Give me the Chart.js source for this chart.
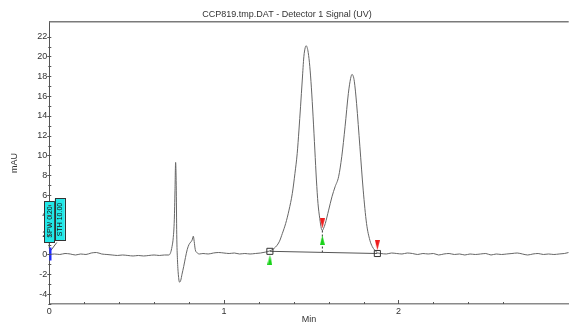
<!DOCTYPE html>
<html>
<head>
<meta charset="utf-8">
<script src="https://cdn.jsdelivr.net/npm/chart.js@4.4.1/dist/chart.umd.min.js"></script>
<style>
  html, body { margin: 0; padding: 0; background: #fff; }
  #chart { display: block; }
</style>
</head>
<body>
<canvas id="chart" width="574" height="324"></canvas>
<script>
// retention time (min) and detector signal (mAU)
const times = [
  0.000, 0.030, 0.060, 0.090, 0.120, 0.150, 0.180, 0.210, 0.240, 0.270,
  0.300, 0.330, 0.360, 0.390, 0.420, 0.450, 0.480, 0.510, 0.540, 0.570,
  0.600, 0.630, 0.660, 0.685,
  0.695, 0.703, 0.710, 0.716, 0.720, 0.7235, 0.727, 0.730, 0.734, 0.739,
  0.746, 0.753, 0.760, 0.770, 0.780, 0.790, 0.800, 0.810, 0.818, 0.825,
  0.830, 0.836, 0.845, 0.860,
  0.880, 0.910, 0.940, 0.970, 1.000, 1.030, 1.060, 1.090, 1.120, 1.150,
  1.180, 1.210, 1.240,
  1.2635, 1.288, 1.317, 1.335, 1.354, 1.373, 1.392, 1.407, 1.420, 1.430,
  1.439, 1.449, 1.458, 1.466, 1.471, 1.477, 1.483, 1.492, 1.501, 1.511,
  1.521, 1.530, 1.539, 1.549, 1.558, 1.564, 1.570, 1.581, 1.600, 1.619,
  1.637, 1.657, 1.675, 1.694, 1.713, 1.726, 1.734, 1.741, 1.747, 1.760,
  1.779, 1.798, 1.817, 1.836, 1.850, 1.864, 1.879,
  1.900, 1.930, 1.960, 1.990, 2.020, 2.050, 2.080, 2.110, 2.140, 2.170,
  2.200, 2.230, 2.260, 2.290, 2.320, 2.350, 2.380, 2.410, 2.440, 2.470,
  2.500, 2.530, 2.560, 2.590, 2.620, 2.650, 2.680, 2.710, 2.740, 2.770,
  2.800, 2.830, 2.860, 2.890, 2.920, 2.950, 2.975
];
const signal = [
  0.00, 0.05, 0.00, 0.10, 0.05, -0.05, 0.05, 0.00, 0.15, 0.20,
  0.05, 0.00, -0.05, -0.10, -0.05, -0.10, -0.15, -0.10, -0.15, -0.10,
  -0.05, -0.10, -0.05, -0.05,
  0.20, 0.80, 1.70, 3.50, 6.50, 9.30, 7.00, 2.00, -0.50, -2.00,
  -2.80, -2.60, -2.00, -1.20, -0.30, 0.50, 1.00, 1.25, 1.45, 1.85,
  1.30, 0.50, 0.20, 0.05,
  0.10, 0.05, 0.15, 0.20, 0.15, 0.10, 0.15, 0.05, 0.10, 0.05,
  0.10, 0.15, 0.25,
  0.37, 0.62, 1.28, 2.13, 3.14, 4.48, 6.17, 8.19, 10.21, 12.57,
  14.92, 17.62, 19.97, 20.90, 21.08, 20.90, 20.40, 19.00, 16.90, 13.90,
  10.55, 7.52, 5.16, 3.65, 2.64, 2.42, 2.60, 3.14, 4.48, 5.83,
  6.84, 7.85, 9.87, 12.90, 16.27, 17.79, 18.19, 18.00, 17.50, 15.26,
  10.88, 6.50, 3.14, 1.45, 0.80, 0.44, 0.17,
  0.10, 0.05, 0.15, 0.10, 0.05, 0.15, 0.10, 0.00, 0.10, 0.05,
  0.10, -0.05, 0.05, 0.10, 0.00, 0.05, -0.05, 0.05, 0.00, 0.05,
  0.10, -0.05, 0.05, 0.00, 0.05, 0.10, 0.15, 0.05, -0.05, 0.05,
  0.10, 0.00, 0.05, 0.00, 0.05, 0.10, 0.20
];

// integration: baseline ends and the valley drop line
const baseTimes = [1.2635, 1.879];
const baseLevels = [0.32, 0.10];
const dropTime = 1.564;
const dropLevels = [2.42, 0.22];

// peak start / end flags
const startTimes = [1.2635, 1.564];
const startLevels = [-0.55, 1.45];
const endTimes = [1.879, 1.564];
const endLevels = [0.95, 3.14];

// timed events shown at the left
const eventTime = 0;
const eventLevel = 0;
const eventLabels = ["SPW 0.20", "STH 10.00"];

const xMin = 0;
const xMax = 2.975;
const yMin = -5;
const yMax = 23.5;

const FONT = "'Liberation Sans', Arial, sans-serif";

const pts = (xs, ys) => xs.map((x, i) => ({ x: x, y: ys[i] }));

const makeArrow = (color, up) => {
  const c = document.createElement("canvas");
  c.width = 5;
  c.height = 10;
  const g = c.getContext("2d");
  g.fillStyle = color;
  g.beginPath();
  if (up) {
    g.moveTo(2.5, 0);
    g.lineTo(5, 10);
    g.lineTo(0, 10);
  } else {
    g.moveTo(0, 0);
    g.lineTo(5, 0);
    g.lineTo(2.5, 10);
  }
  g.closePath();
  g.fill();
  return c;
};

const frameTicks = {
  id: "frameTicks",
  afterDraw(chart) {
    const { ctx, chartArea } = chart;
    const xs = chart.scales.x;
    const ys = chart.scales.y;
    ctx.save();
    // top frame line
    ctx.strokeStyle = "#7a7a7a";
    ctx.lineWidth = 1.5;
    ctx.beginPath();
    ctx.moveTo(chartArea.left, chartArea.top);
    ctx.lineTo(chartArea.right, chartArea.top);
    ctx.stroke();

    ctx.strokeStyle = "#555";
    ctx.lineWidth = 1;
    xs.ticks.forEach((t) => {
      const v = t.value;
      if (v >= xMax) return;
      const px = Math.round(xs.getPixelForValue(v)) + 0.5;
      const len = Number.isInteger(v) ? 4 : 2;
      ctx.beginPath();
      ctx.moveTo(px, chartArea.bottom);
      ctx.lineTo(px, chartArea.bottom - len);
      ctx.stroke();
    });
    ys.ticks.forEach((t) => {
      const v = t.value;
      if (!Number.isInteger(v)) return;
      const py = Math.round(ys.getPixelForValue(v)) + 0.5;
      const major = v % 2 === 0;
      ctx.beginPath();
      ctx.moveTo(chartArea.left - (major ? 2 : 1), py);
      ctx.lineTo(chartArea.left + 2, py);
      ctx.stroke();
    });
    ctx.restore();
  },
};

const eventMarks = {
  id: "eventMarks",
  afterDatasetsDraw(chart) {
    const { ctx } = chart;
    const x0 = chart.scales.x.getPixelForValue(eventTime);
    const y0 = chart.scales.y.getPixelForValue(eventLevel);
    const boxes = [
      { l: x0 - 5, t: y0 - 53, w: 10, h: 41 },
      { l: x0 + 5.5, t: y0 - 56, w: 10, h: 42 },
    ];
    ctx.save();
    // leader lines
    ctx.strokeStyle = "#555";
    ctx.lineWidth = 1;
    ctx.beginPath();
    ctx.moveTo(x0, y0 - 12);
    ctx.lineTo(x0, y0 - 6);
    ctx.moveTo(x0 + 7.5, y0 - 12);
    ctx.lineTo(x0 + 1.5, y0 - 4);
    ctx.stroke();
    // event marker
    ctx.fillStyle = "#1f2bff";
    ctx.fillRect(x0, y0 - 7, 2.2, 13);

    boxes.forEach((b, i) => {
      ctx.fillStyle = "#22e8e8";
      ctx.fillRect(b.l, b.t, b.w, b.h);
      ctx.strokeStyle = "#333";
      ctx.lineWidth = 1;
      ctx.strokeRect(Math.round(b.l) + 0.5, Math.round(b.t) + 0.5, b.w, b.h);
      ctx.save();
      ctx.translate(b.l + b.w / 2, b.t + b.h / 2);
      ctx.rotate(-Math.PI / 2);
      ctx.fillStyle = "#111";
      ctx.font = "7px " + FONT;
      ctx.textAlign = "center";
      ctx.textBaseline = "middle";
      ctx.fillText(eventLabels[i], 0, 0.5);
      ctx.restore();
    });
    ctx.restore();
  },
};

document.addEventListener("DOMContentLoaded", () => {
  const ctx = document.getElementById("chart").getContext("2d");

  new Chart(ctx, {
    type: "scatter",
    data: {
      datasets: [
        {
          label: "Detector 1",
          data: pts(times, signal),
          showLine: true,
          borderColor: "#666",
          borderWidth: 1,
          pointRadius: 0,
          cubicInterpolationMode: "monotone",
          order: 3,
        },
        {
          label: "baseline",
          data: pts(baseTimes, baseLevels),
          showLine: true,
          borderColor: "#555",
          borderWidth: 1,
          pointRadius: 4.3,
          pointStyle: "rect",
          pointBackgroundColor: "rgba(255,255,255,0)",
          pointBorderColor: "#333",
          pointBorderWidth: 1,
          order: 2,
        },
        {
          label: "drop",
          data: pts([dropTime, dropTime], dropLevels),
          showLine: true,
          borderColor: "#333",
          borderWidth: 1,
          borderDash: [2, 2],
          pointRadius: 0,
          order: 2,
        },
        {
          label: "start",
          data: pts(startTimes, startLevels),
          pointStyle: makeArrow("#19d219", true),
          pointRadius: 3,
          order: 1,
        },
        {
          label: "end",
          data: pts(endTimes, endLevels),
          pointStyle: makeArrow("#ee1c1c", false),
          pointRadius: 3,
          order: 1,
        },
      ],
    },
    options: {
      responsive: false,
      animation: false,
      layout: { padding: 0 },
      plugins: {
        legend: { display: false },
        tooltip: { enabled: false },
        title: {
          display: true,
          text: "CCP819.tmp.DAT - Detector 1 Signal (UV)",
          color: "#333",
          font: { family: FONT, size: 9, weight: "normal" },
          padding: { top: 9, bottom: 2 },
        },
      },
      scales: {
        x: {
          type: "linear",
          min: xMin,
          max: xMax,
          afterFit: (scale) => {
            scale.height = 20;
          },
          grid: { display: false, drawTicks: false },
          border: { display: true, color: "#8a8a8a", width: 1.5 },
          ticks: {
            stepSize: 0.2,
            padding: 2,
            maxRotation: 0,
            autoSkip: false,
            color: "#333",
            font: { family: FONT, size: 9 },
            callback: (v) => (Number.isInteger(v) ? String(v) : ""),
          },
          title: {
            display: true,
            text: "Min",
            color: "#333",
            font: { family: FONT, size: 9 },
            padding: { top: 0, bottom: -1 },
          },
        },
        y: {
          type: "linear",
          min: yMin,
          max: yMax,
          afterFit: (scale) => {
            scale.width = 49.3;
          },
          grid: { display: false, drawTicks: false },
          border: { display: true, color: "#555", width: 1 },
          ticks: {
            stepSize: 1,
            padding: 2,
            autoSkip: false,
            color: "#333",
            font: { family: FONT, size: 9 },
            callback: (v) => (Number.isInteger(v) && v % 2 === 0 ? String(v) : ""),
          },
          title: {
            display: true,
            text: "mAU",
            color: "#333",
            font: { family: FONT, size: 9 },
            padding: { top: 9.5, bottom: 0 },
          },
        },
      },
    },
    plugins: [frameTicks, eventMarks],
  });
});
</script>
</body>
</html>
